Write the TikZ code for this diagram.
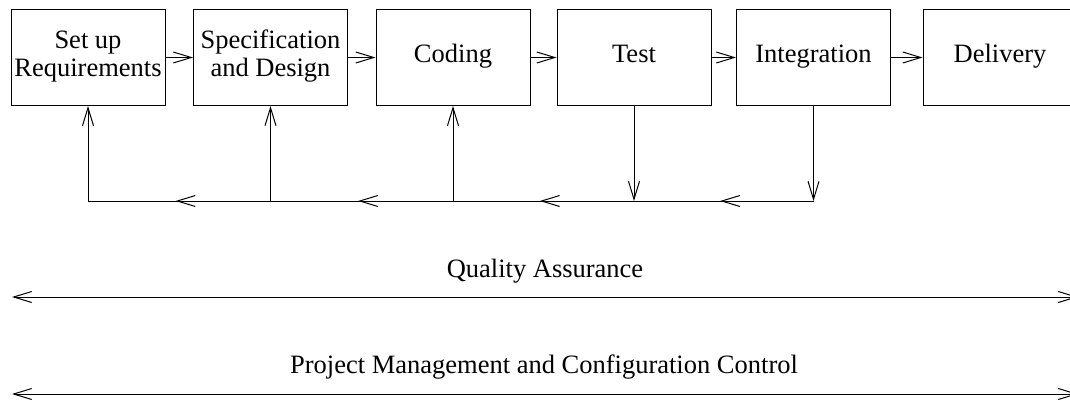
\documentclass[tikz,border=0pt]{standalone}
\usepackage{fontspec}
\setmainfont{Liberation Serif}
\usetikzlibrary{arrows.meta,decorations.markings}

\tikzset{
  barb/.tip={Straight Barb[length=18pt,width=11pt,line width=1pt]},
  phase/.style={draw, line width=1pt, minimum width=154pt, minimum height=96pt, inner sep=0pt},
  lbl/.style={font=\fontsize{26.5}{28.4}\selectfont, inner sep=0pt, anchor=base},
  flow/.style={line width=1pt, -barb},
  both/.style={line width=1pt, barb-barb},
  midback/.style={line width=1pt, decoration={markings,
      mark=at position 0.52 with {\arrow{barb}}},
      postaction={decorate}}
}

\begin{document}
\begin{tikzpicture}[x=1pt, y=-1pt]
  \useasboundingbox (0,0) rectangle (1070,399);

  % development phases
  \node[phase] (req)  at (88,57.5)    {};
  \node[phase] (spec) at (270.5,57.5) {};
  \node[phase] (cod)  at (453,57.5)   {};
  \node[phase] (tst)  at (634,57.5)   {};
  \node[phase] (intg) at (813.5,57.5) {};
  \node[phase] (del)  at (1000,57.5)  {};

  \node[lbl] (reqA)  at (88,48.3)    {Set up};
  \node[lbl] (reqB)  at (88,76.7)    {Requirements};
  \node[lbl] (specA) at (270.5,48.3) {Specification};
  \node[lbl] (specB) at (270.5,76.7) {and Design};
  \node[lbl] (codL)  at (453,62.5)   {Coding};
  \node[lbl] (tstL)  at (634,62.5)   {Test};
  \node[lbl] (intL)  at (813.5,62.5) {Integration};
  \node[lbl] (delL)  at (1000,62.5)  {Delivery};

  % forward flow
  \draw[flow] (req)  -- (spec);
  \draw[flow] (spec) -- (cod);
  \draw[flow] (cod)  -- (tst);
  \draw[flow] (tst)  -- (intg);
  \draw[flow] (intg) -- (del);

  % feedback bus
  \coordinate (f1) at (88,201);
  \coordinate (f2) at (270.5,201);
  \coordinate (f3) at (453,201);
  \coordinate (f4) at (634,201);
  \coordinate (f5) at (813.5,201);

  \draw[flow] (tst.south)  -- (f4);
  \draw[flow] (intg.south) -- (f5);
  \draw[midback] (f5) -- (f4);
  \draw[midback] (f4) -- (f3);
  \draw[midback] (f3) -- (f2);
  \draw[midback] (f2) -- (f1);
  \draw[flow] (f1) -- (req.south);
  \draw[flow] (f2) -- (spec.south);
  \draw[flow] (f3) -- (cod.south);

  % cross-cutting activities
  \node[lbl] (qa) at (545,277.3) {Quality Assurance};
  \coordinate (qaL) at (12,297);
  \coordinate (qaR) at (1078,297);
  \draw[both] (qaL) -- (qaR);

  \node[lbl] (pm) at (544,373.3) {Project Management and Configuration Control};
  \coordinate (pmL) at (12,394);
  \coordinate (pmR) at (1078,394);
  \draw[both] (pmL) -- (pmR);
\end{tikzpicture}
\end{document}
